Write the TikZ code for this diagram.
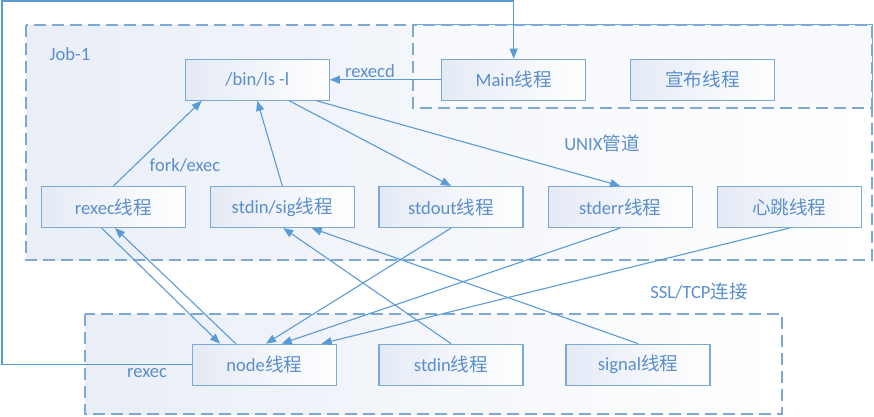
\documentclass[tikz,border=0pt]{standalone}
\usepackage{fontspec}
\setmainfont{Carlito}
\newfontfamily\cjk{Noto Sans CJK SC}
\usetikzlibrary{arrows.meta,calc}
\newcommand{\zh}[1]{{\cjk #1}}
\definecolor{txt}{HTML}{5B8FCC}
\definecolor{ln}{HTML}{5B9BD5}
\definecolor{bd}{HTML}{7EA8D6}
\definecolor{boxL}{HTML}{E4EAF5}
\definecolor{regL}{HTML}{E9EEF7}
\tikzset{
  box/.style={rectangle, draw=bd, line width=1.2pt, left color=boxL, right color=white,
    minimum width=144pt, minimum height=41pt, inner sep=0pt, text=txt,
    font=\fontsize{18.6}{22}\selectfont},
  region/.style={draw=bd, line width=1.2pt, dash pattern=on 12pt off 6pt},
  lbl/.style={text=txt, font=\fontsize{18.6}{22}\selectfont, inner sep=0pt},
  conn/.style={draw=ln, line width=1.1pt, -{Triangle[length=10pt,width=8pt]}},
}
\begin{document}
\begin{tikzpicture}[x=1pt,y=-1pt]
\useasboundingbox (0,0) rectangle (874,416);
% regions
\path[region, left color=regL, right color=white] (26,25) rectangle (872,260);
\path[region, fill=white!70!regL] (413,25) rectangle (872,108);
\path[region, left color=regL, right color=white] (85,314) rectangle (782,414);
% nodes
\node[box] (bin) at (257.3,79.7) {/bin/ls -l};
\node[box] (main) at (513.7,79.7) {Main\zh{线程}};
\node[box] (announce) at (702.5,79.7) {\zh{宣布线程}};
\node[box] (rexec) at (113.5,207) {rexec\zh{线程}};
\node[box] (stdinsig) at (282.3,207) {stdin/sig\zh{线程}};
\node[box] (stdout) at (451,207) {stdout\zh{线程}};
\node[box] (stderr) at (620.2,207) {stderr\zh{线程}};
\node[box] (heart) at (789.2,207) {\zh{心跳线程}};
\node[box] (nodet) at (264.3,364.7) {node\zh{线程}};
\node[box] (stdin) at (451,364.7) {stdin\zh{线程}};
\node[box] (signal) at (638,364.7) {signal\zh{线程}};
% labels
\node[lbl] (job) at (70,54) {Job-1};
\node[lbl] (rexecdl) at (370,71) {rexecd};
\node[lbl] (forkl) at (185,165) {fork/exec};
\node[lbl] (unixl) at (602,143) {UNIX\zh{管道}};
\node[lbl] (ssll) at (699,291) {SSL/TCP\zh{连接}};
\node[lbl] (rexecl) at (147,373) {rexec};
% connectors
\coordinate (corner) at (2,1);
\draw[conn] (nodet.west) -| (corner) -| (main.north);
\draw[conn] (main.west) -- (bin.east);
\draw[conn] (rexec.north) -- ([xshift=-55.6pt]bin.south);
\draw[conn] (stdinsig.north) -- (bin.south);
\draw[conn] ([xshift=32pt]bin.south) -- (stdout.north);
\draw[conn] ([xshift=59.4pt]bin.south) -- (stderr.north);
\draw[conn] ([xshift=-11.8pt]rexec.south) -- ([xshift=-44.3pt]nodet.north);
\draw[conn] ([xshift=-28.6pt]nodet.north) -- ([xshift=1.5pt]rexec.south);
\draw[conn] (stdout.south) -- ([xshift=1.7pt]nodet.north);
\draw[conn] (stderr.south) -- ([xshift=17.4pt]nodet.north);
\draw[conn] (heart.south) -- ([xshift=57.4pt]nodet.north);
\draw[conn] (stdin.north) -- ([xshift=1pt]stdinsig.south);
\draw[conn] (signal.north) -- ([xshift=29.4pt]stdinsig.south);
\end{tikzpicture}
\end{document}
